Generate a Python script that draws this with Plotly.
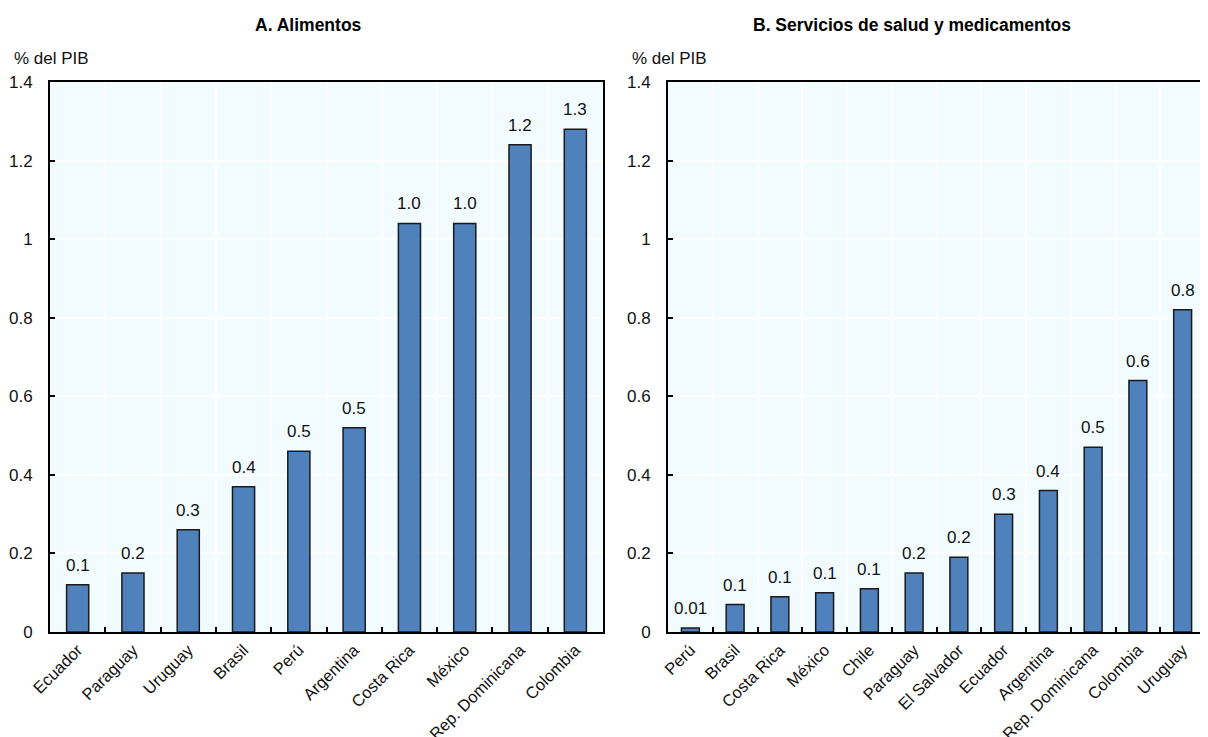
import plotly.graph_objects as go

# Page has an 8px body margin: figure is drawn 8px in from the window's top-left
OFF = 8
W, H = 1208 - OFF, 737 - OFF

# Panel A data
cat_a = ["Ecuador", "Paraguay", "Uruguay", "Brasil", "Perú", "Argentina",
         "Costa Rica", "México", "Rep. Dominicana", "Colombia"]
val_a = [0.12, 0.15, 0.26, 0.37, 0.46, 0.52, 1.04, 1.04, 1.24, 1.28]
lab_a = ["0.1", "0.2", "0.3", "0.4", "0.5", "0.5", "1.0", "1.0", "1.2", "1.3"]

# Panel B data
cat_b = ["Perú", "Brasil", "Costa Rica", "México", "Chile", "Paraguay",
         "El Salvador", "Ecuador", "Argentina", "Rep. Dominicana", "Colombia", "Uruguay"]
val_b = [0.01, 0.07, 0.09, 0.10, 0.11, 0.15, 0.19, 0.30, 0.36, 0.47, 0.64, 0.82]
lab_b = ["0.01", "0.1", "0.1", "0.1", "0.1", "0.2", "0.2", "0.3", "0.4", "0.5", "0.6", "0.8"]

titles = ["A. Alimentos", "B. Servicios de salud y medicamentos"]
y_unit = "% del PIB"

FONT = "Liberation Sans, Arial, sans-serif"
BAR = "#4F81BD"
BG = "#F2FCFF"

def px(x):
    return (x - OFF) / W

def py(y):
    return 1 - (y - OFF) / H

fig = go.Figure()
fig.add_trace(go.Bar(x=cat_a, y=val_a, xaxis="x", yaxis="y", width=0.4,
                     marker=dict(color=BAR, line=dict(color="#1a1a1a", width=1.5)),
                     showlegend=False, hoverinfo="x+y"))
fig.add_trace(go.Bar(x=cat_b, y=val_b, xaxis="x2", yaxis="y2", width=0.4,
                     marker=dict(color=BAR, line=dict(color="#1a1a1a", width=1.5)),
                     showlegend=False, hoverinfo="x+y"))

annotations = []
for c, v, t in zip(cat_a, val_a, lab_a):
    annotations.append(dict(x=c, y=v, xref="x", yref="y", text=t, showarrow=False,
                            yanchor="bottom", yshift=8, font=dict(size=17, color="#111")))
for c, v, t in zip(cat_b, val_b, lab_b):
    annotations.append(dict(x=c, y=v, xref="x2", yref="y2", text=t, showarrow=False,
                            yanchor="bottom", yshift=8, font=dict(size=17, color="#111")))

annotations.append(dict(x=px(308), y=py(25), xref="paper", yref="paper", text="<b>" + titles[0] + "</b>",
                        showarrow=False, xanchor="center", yanchor="middle", font=dict(size=17.5, color="#000")))
annotations.append(dict(x=px(912), y=py(25), xref="paper", yref="paper", text="<b>" + titles[1] + "</b>",
                        showarrow=False, xanchor="center", yanchor="middle", font=dict(size=17.5, color="#000")))
annotations.append(dict(x=px(12), y=py(58), xref="paper", yref="paper", text=y_unit,
                        showarrow=False, xanchor="left", yanchor="middle", font=dict(size=17, color="#111")))
annotations.append(dict(x=px(630), y=py(58), xref="paper", yref="paper", text=y_unit,
                        showarrow=False, xanchor="left", yanchor="middle", font=dict(size=17, color="#111")))

common_x = dict(type="category", tickson="boundaries", ticks="inside", ticklen=5, tickwidth=1.5,
                tickcolor="#000", showline=True, linecolor="#000", linewidth=2, mirror=True,
                showgrid=True, gridcolor="white", gridwidth=1.5, tickangle=-45,
                tickfont=dict(size=16.5, color="#111"), automargin=False, fixedrange=True)
common_y = dict(range=[0, 1.4], dtick=0.2, ticks="inside", ticklen=5, tickwidth=1.5, tickcolor="#000",
                showline=True, linecolor="#000", linewidth=2, mirror=True,
                showgrid=True, gridcolor="white", gridwidth=1.5, zeroline=False,
                tickfont=dict(size=17, color="#111"), automargin=False, ticklabelstandoff=12,
                fixedrange=True)

fig.update_layout(
    width=W, height=H,
    margin=dict(l=0, r=0, t=0, b=0),
    paper_bgcolor="white", plot_bgcolor=BG,
    font=dict(family=FONT, color="#111"),
    bargap=0.6,
    xaxis=dict(domain=[px(50), px(603)], anchor="y", **common_x),
    yaxis=dict(domain=[py(632), py(82)], anchor="x", **common_y),
    xaxis2=dict(domain=[px(668), px(1205)], anchor="y2", **common_x),
    yaxis2=dict(domain=[py(632), py(82)], anchor="x2", **common_y),
    annotations=annotations,
)

fig.write_html("out.html")
